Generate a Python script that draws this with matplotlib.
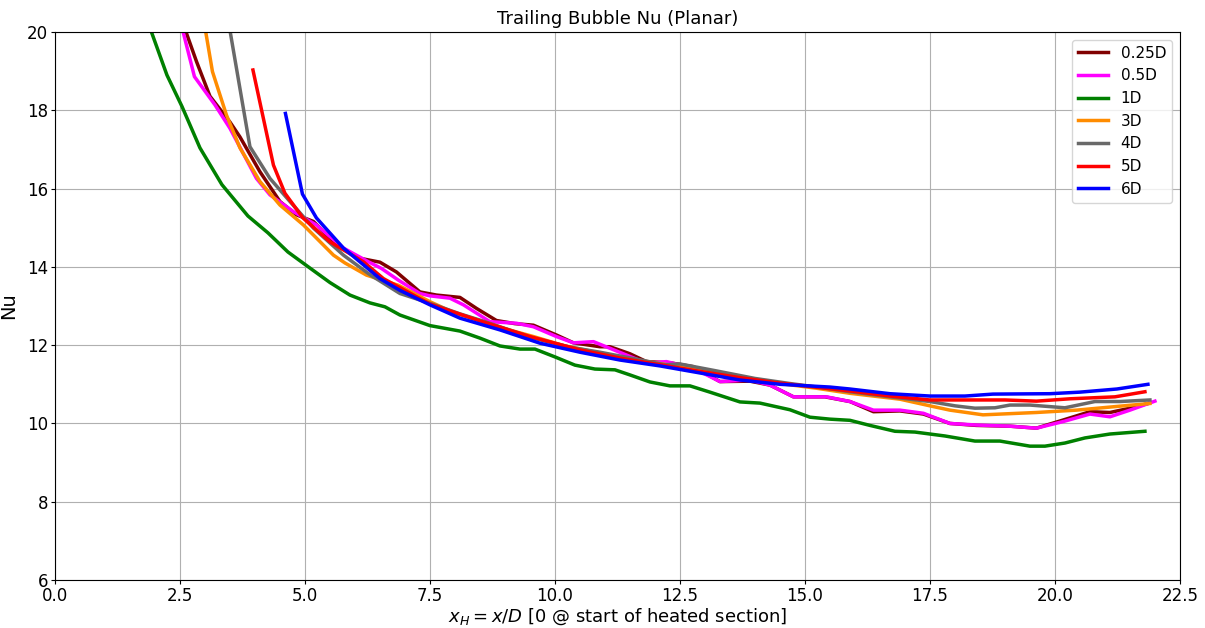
import matplotlib
matplotlib.use("Agg")
import matplotlib.pyplot as plt

# 0.25D
x_025 = [2.5, 2.63, 2.83, 3.1, 3.5, 3.7, 4.1, 4.5, 4.83, 5.17, 5.45, 5.7, 6.1, 6.5, 6.83, 7.3, 7.63,
         8.1, 8.43, 8.83, 9.2, 9.57, 10.03, 10.37, 10.9, 11.1, 11.5, 11.83, 12.3, 12.77, 13.3, 13.9,
         14.3, 14.77, 15.4, 15.9, 16.37, 16.9, 17.37, 17.9, 18.43, 19.1, 19.63, 20.17, 20.7, 21.1,
         21.5, 21.86]
nu_025 = [20.6, 19.97, 19.25, 18.36, 17.7, 17.32, 16.43, 15.67, 15.33, 15.16, 14.8, 14.5, 14.22, 14.12,
          13.87, 13.36, 13.28, 13.22, 12.94, 12.63, 12.55, 12.51, 12.26, 12.06, 11.96, 11.96, 11.78,
          11.58, 11.55, 11.45, 11.07, 11.08, 10.98, 10.68, 10.68, 10.56, 10.3, 10.32, 10.24, 10.0,
          9.95, 9.93, 9.88, 10.09, 10.3, 10.28, 10.39, 10.51]

# 0.5D
x_05 = [2.5, 2.57, 2.79, 3.2, 3.5, 4.03, 4.3, 4.77, 5.23, 5.77, 6.27, 6.53, 6.87, 7.3, 7.5, 7.9, 8.17,
        8.7, 9.23, 9.57, 10.03, 10.37, 10.77, 11.1, 11.83, 12.23, 12.77, 13.3, 13.9, 14.3, 14.77,
        15.43, 15.9, 16.37, 16.9, 17.37, 17.9, 18.43, 19.1, 19.63, 20.17, 20.7, 21.1, 21.5, 22.0]
nu_05 = [20.4, 19.97, 18.86, 18.14, 17.54, 16.26, 15.84, 15.41, 15.07, 14.48, 14.13, 13.96, 13.66,
         13.32, 13.26, 13.2, 13.03, 12.6, 12.56, 12.47, 12.22, 12.06, 12.09, 11.92, 11.54, 11.58,
         11.41, 11.07, 11.11, 10.98, 10.68, 10.68, 10.56, 10.34, 10.34, 10.26, 10.0, 9.96, 9.93,
         9.88, 10.05, 10.24, 10.17, 10.34, 10.57]

# 1D
x_1 = [1.8, 1.93, 2.24, 2.54, 2.9, 3.34, 3.86, 4.26, 4.66, 5.1, 5.5, 5.9, 6.3, 6.6, 6.9, 7.5, 8.1,
       8.5, 8.9, 9.3, 9.6, 10.0, 10.4, 10.8, 11.2, 11.5, 11.9, 12.3, 12.7, 13.1, 13.7, 14.1, 14.7,
       15.1, 15.5, 15.9, 16.3, 16.8, 17.2, 17.8, 18.4, 18.9, 19.5, 19.8, 20.2, 20.6, 21.1, 21.8]
nu_1 = [20.6, 20.0, 18.9, 18.1, 17.04, 16.1, 15.3, 14.87, 14.38, 13.97, 13.6, 13.28, 13.08, 12.98,
        12.77, 12.5, 12.36, 12.18, 11.98, 11.9, 11.9, 11.7, 11.49, 11.39, 11.37, 11.24, 11.06, 10.96,
        10.96, 10.8, 10.55, 10.52, 10.35, 10.16, 10.11, 10.08, 9.95, 9.8, 9.78, 9.68, 9.55, 9.55,
        9.42, 9.42, 9.5, 9.63, 9.73, 9.8]

# 3D
x_3 = [2.95, 3.02, 3.15, 3.43, 3.7, 4.1, 4.5, 4.97, 5.57, 5.8, 6.23, 6.87, 7.5, 8.0, 8.57, 9.0, 9.57,
       10.2, 10.9, 11.5, 12.5, 13.2, 13.9, 14.5, 15.23, 15.9, 16.9, 17.5, 17.9, 18.56, 19.63, 20.43,
       21.2, 21.9]
nu_3 = [20.5, 19.97, 18.99, 17.88, 17.04, 16.18, 15.58, 15.07, 14.3, 14.1, 13.79, 13.53, 13.11, 12.82,
        12.6, 12.42, 12.22, 11.98, 11.8, 11.65, 11.45, 11.3, 11.15, 11.02, 10.9, 10.77, 10.62, 10.45,
        10.34, 10.22, 10.28, 10.34, 10.43, 10.51]

# 4D
x_4 = [3.45, 3.51, 3.9, 4.3, 4.7, 5.17, 5.77, 6.3, 6.9, 7.5, 8.1, 8.6, 9.57, 10.3, 10.9, 11.6, 12.2,
       12.5, 13.2, 14.0, 14.7, 15.3, 15.9, 16.7, 17.5, 18.0, 18.4, 18.8, 19.1, 19.5, 20.2, 20.8, 21.3,
       21.9]
nu_4 = [20.4, 19.97, 17.07, 16.26, 15.67, 14.99, 14.3, 13.8, 13.32, 13.07, 12.8, 12.6, 12.18, 11.95,
        11.82, 11.65, 11.5, 11.52, 11.35, 11.15, 11.02, 10.92, 10.81, 10.68, 10.56, 10.45, 10.39,
        10.4, 10.47, 10.47, 10.4, 10.56, 10.56, 10.6]

# 5D
x_5 = [3.96, 4.37, 4.6, 4.96, 5.5, 6.17, 6.57, 7.5, 8.5, 9.5, 10.5, 11.3, 12.1, 12.9, 13.7, 14.5,
       15.2, 15.9, 16.7, 17.5, 18.3, 19.0, 19.63, 20.3, 21.2, 21.8]
nu_5 = [19.03, 16.6, 15.88, 15.25, 14.64, 14.13, 13.7, 13.05, 12.62, 12.22, 11.88, 11.67, 11.5, 11.33,
        11.17, 11.03, 10.93, 10.83, 10.7, 10.6, 10.6, 10.6, 10.57, 10.63, 10.68, 10.81]

# 6D
x_6 = [4.61, 4.95, 5.23, 5.77, 6.5, 6.9, 7.5, 8.1, 8.9, 9.7, 10.5, 11.3, 12.1, 12.9, 13.7, 14.5,
       15.5, 15.9, 16.7, 17.5, 18.2, 18.76, 19.9, 20.5, 21.24, 21.86]
nu_6 = [17.92, 15.86, 15.25, 14.48, 13.7, 13.4, 13.03, 12.69, 12.39, 12.05, 11.82, 11.62, 11.47,
        11.29, 11.11, 11.0, 10.93, 10.88, 10.76, 10.7, 10.7, 10.75, 10.76, 10.8, 10.88, 11.0]

series = [
    ("0.25D", x_025, nu_025, "maroon"),
    ("0.5D", x_05, nu_05, "magenta"),
    ("1D", x_1, nu_1, "green"),
    ("3D", x_3, nu_3, "darkorange"),
    ("4D", x_4, nu_4, "dimgray"),
    ("5D", x_5, nu_5, "red"),
    ("6D", x_6, nu_6, "blue"),
]

fig = plt.figure(figsize=(12.05, 6.28), dpi=100)
ax = fig.add_axes([0.0456, 0.0764, 0.9336, 0.8726])

for label, xs, ys, c in series:
    ax.plot(xs, ys, color=c, lw=2.5, label=label)

ax.set_xlim(0, 22.5)
ax.set_ylim(6, 20)
ax.set_xticks([0, 2.5, 5, 7.5, 10, 12.5, 15, 17.5, 20, 22.5])
ax.set_yticks(range(6, 21, 2))
ax.grid(True, color="#b0b0b0", lw=0.8)
ax.tick_params(labelsize=12, pad=2, length=3)
ax.set_xlabel(r"$x_H = x/D$ [0 @ start of heated section]", fontsize=13, labelpad=1)
ax.set_ylabel("Nu", fontsize=14, labelpad=6)
ax.set_title("Trailing Bubble Nu (Planar)", fontsize=13)
ax.legend(loc="upper right", fontsize=11)

plt.savefig("out.png", format="png")
plt.clf()
